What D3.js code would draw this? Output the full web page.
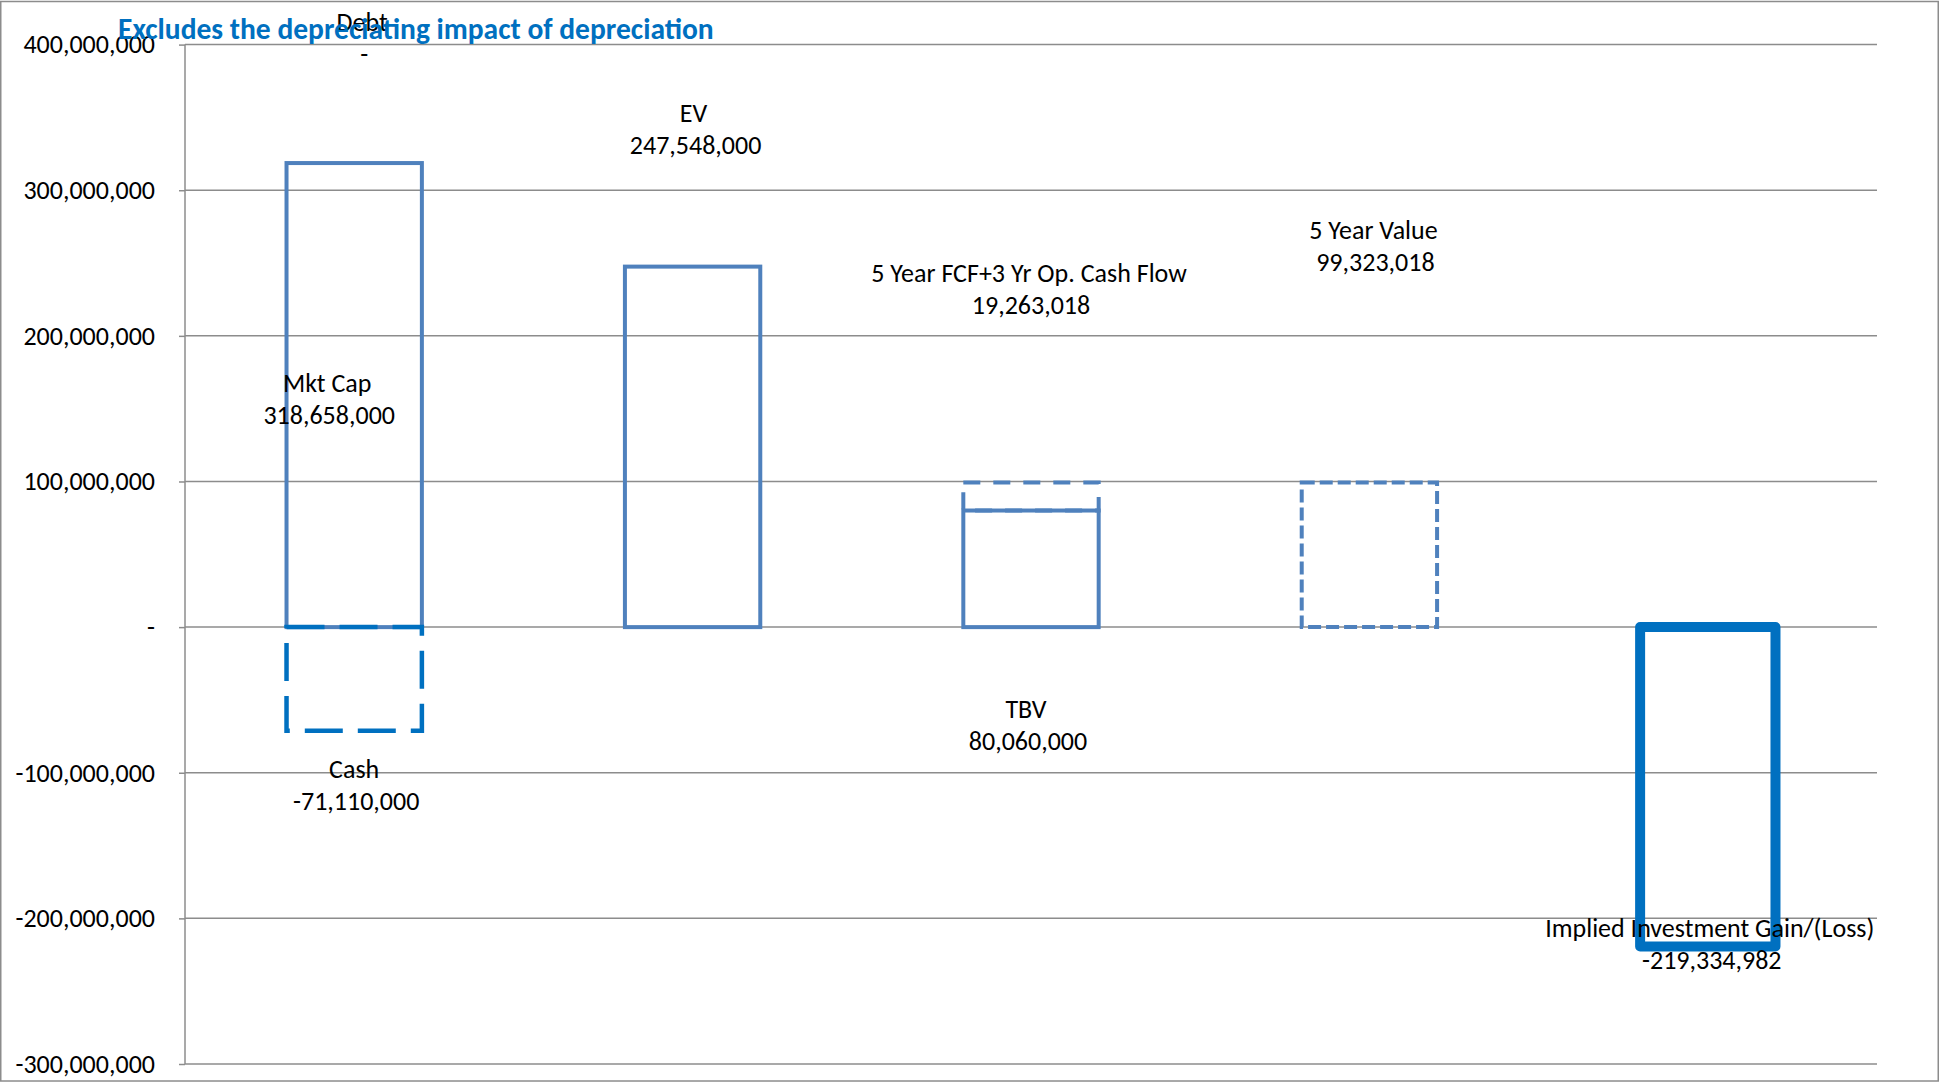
<!DOCTYPE html>
<html>
<head>
<meta charset="utf-8">
<script src="https://cdn.jsdelivr.net/npm/d3@7"></script>
<style>
  html, body { margin: 0; padding: 0; background: #fff; }
  svg { display: block; }
  text { font-family: Carlito, Calibri, Lato, sans-serif; }
</style>
</head>
<body>
<script>
// ---------------- DATA ----------------
const categories = ["Market Value", "EV", "Book Value + Cash Flow", "5 Year Value", "Implied Gain/(Loss)"];
const seriesNames = ["Mkt Cap", "Debt", "Cash", "EV", "TBV", "5 Year FCF+3 Yr Op. Cash Flow", "5 Year Value", "Implied Investment Gain/(Loss)"];
const seriesCategory = [0, 0, 0, 1, 2, 2, 3, 4];
const seriesValues = [318658000, 0, -71110000, 247548000, 80060000, 19263018, 99323018, -219334982];
const yTicks = [-300000000, -200000000, -100000000, 0, 100000000, 200000000, 300000000, 400000000];
const titleText = "Excludes the depreciating impact of depreciation";

// ---------------- STYLE / LAYOUT ----------------
const W = 1944, H = 1086;
const plot = { left: 185, right: 1877, top: 44.6, bottom: 1064 };
const C1 = "#4F81BD", C2 = "#0070C0";
const FS = 26;
const seriesStyle = [
  { stroke: C1, width: 4,   dash: null },        // Mkt Cap
  { stroke: C1, width: 4,   dash: null },        // Debt
  { stroke: C2, width: 4.5, dash: "38 15" },     // Cash
  { stroke: C1, width: 4,   dash: null },        // EV
  { stroke: C1, width: 4,   dash: null },        // TBV
  { stroke: C1, width: 4,   dash: "17 13" },     // FCF
  { stroke: C1, width: 4,   dash: "13 5" },      // 5 Year Value
  { stroke: C2, width: 10,  dash: null }         // Implied
];
// label anchor (in value units, for first line) and horizontal nudge in px
const labelAnchor = [
  { v: 167.6e6, dx: -27 },
  { v: 415.5e6, dx: 8 },
  { v: -97.5e6, dx: 0 },
  { v: 353e6, dx: 1 },
  { v: -56e6, dx: -5 },
  { v: 243e6, dx: -2 },
  { v: 273e6, dx: 4 },
  { v: -206.7e6, dx: 2 }
];

// ---------------- DRAW ----------------
const svg = d3.select("body").append("svg").attr("width", W).attr("height", H);

// chart border
svg.append("rect").attr("x", 0.75).attr("y", 1.5).attr("width", 1937.5).attr("height", 1079.5)
  .attr("fill", "none").attr("stroke", "#8c8c8c").attr("stroke-width", 1.5);

const x = d3.scaleBand().domain(categories).range([plot.left, plot.right]).paddingInner(0.6).paddingOuter(0.3);
const y = d3.scaleLinear().domain([-300000000, 400000000]).range([plot.bottom, plot.top]);

// gridlines
svg.append("g").selectAll("line").data(yTicks).join("line")
  .attr("x1", plot.left).attr("x2", plot.right)
  .attr("y1", d => y(d)).attr("y2", d => y(d))
  .attr("stroke", "#8c8c8c").attr("stroke-width", 1.5);

// axis
const locale = d3.formatLocale({ decimal: ".", thousands: ",", grouping: [3], currency: ["$", ""], minus: "-" });
const fmt = locale.format(",");
const axis = d3.axisLeft(y).tickValues(yTicks).tickSize(6).tickPadding(24)
  .tickFormat(d => d === 0 ? "-" : fmt(d));
const gAxis = svg.append("g").attr("transform", `translate(${plot.left},0)`).call(axis);
gAxis.select(".domain").attr("stroke", "#8c8c8c").attr("stroke-width", 1.5).attr("d", `M0,${plot.top}V${plot.bottom}`);
gAxis.selectAll(".tick line").attr("stroke", "#8c8c8c").attr("stroke-width", 1.5);
gAxis.selectAll(".tick text").attr("font-size", FS).attr("fill", "#000")
  .style("font-family", "Carlito, Calibri, Lato, sans-serif");

// stacked segments
const posBase = {}, negBase = {};
const segs = seriesValues.map((v, i) => {
  const c = seriesCategory[i];
  let y0, y1;
  if (v >= 0) { y0 = posBase[c] || 0; y1 = y0 + v; posBase[c] = y1; }
  else { y0 = negBase[c] || 0; y1 = y0 + v; negBase[c] = y1; }
  return { i, name: seriesNames[i], cat: categories[c], v, y0, y1 };
});

svg.append("g").selectAll("rect").data(segs.filter(d => d.v !== 0)).join("rect")
  .attr("x", d => x(d.cat))
  .attr("width", x.bandwidth())
  .attr("y", d => y(Math.max(d.y0, d.y1)))
  .attr("height", d => Math.abs(y(d.y0) - y(d.y1)))
  .attr("fill", "none")
  .attr("stroke", d => seriesStyle[d.i].stroke)
  .attr("stroke-width", d => seriesStyle[d.i].width)
  .attr("stroke-dasharray", d => seriesStyle[d.i].dash)
  .attr("stroke-linejoin", d => d.i === 7 ? "round" : "miter");

// data labels
const labelFmt = v => v === 0 ? "-" : fmt(v);
const gLab = svg.append("g");
segs.forEach(d => {
  const a = labelAnchor[d.i];
  const cx = x(d.cat) + x.bandwidth() / 2 + a.dx;
  const cy = y(a.v);
  const t = gLab.append("text").attr("text-anchor", "middle").attr("font-size", FS).attr("fill", "#000");
  t.append("tspan").attr("x", cx).attr("y", cy).attr("dy", "0.35em").text(d.name);
  t.append("tspan").attr("x", cx + 2).attr("y", cy + 32).attr("dy", "0.35em").text(labelFmt(d.v));
});

// title
svg.append("text").attr("x", 118).attr("y", 39)
  .attr("font-size", 29.5).attr("font-weight", "bold").attr("fill", C2)
  .text(titleText);
</script>
</body>
</html>
